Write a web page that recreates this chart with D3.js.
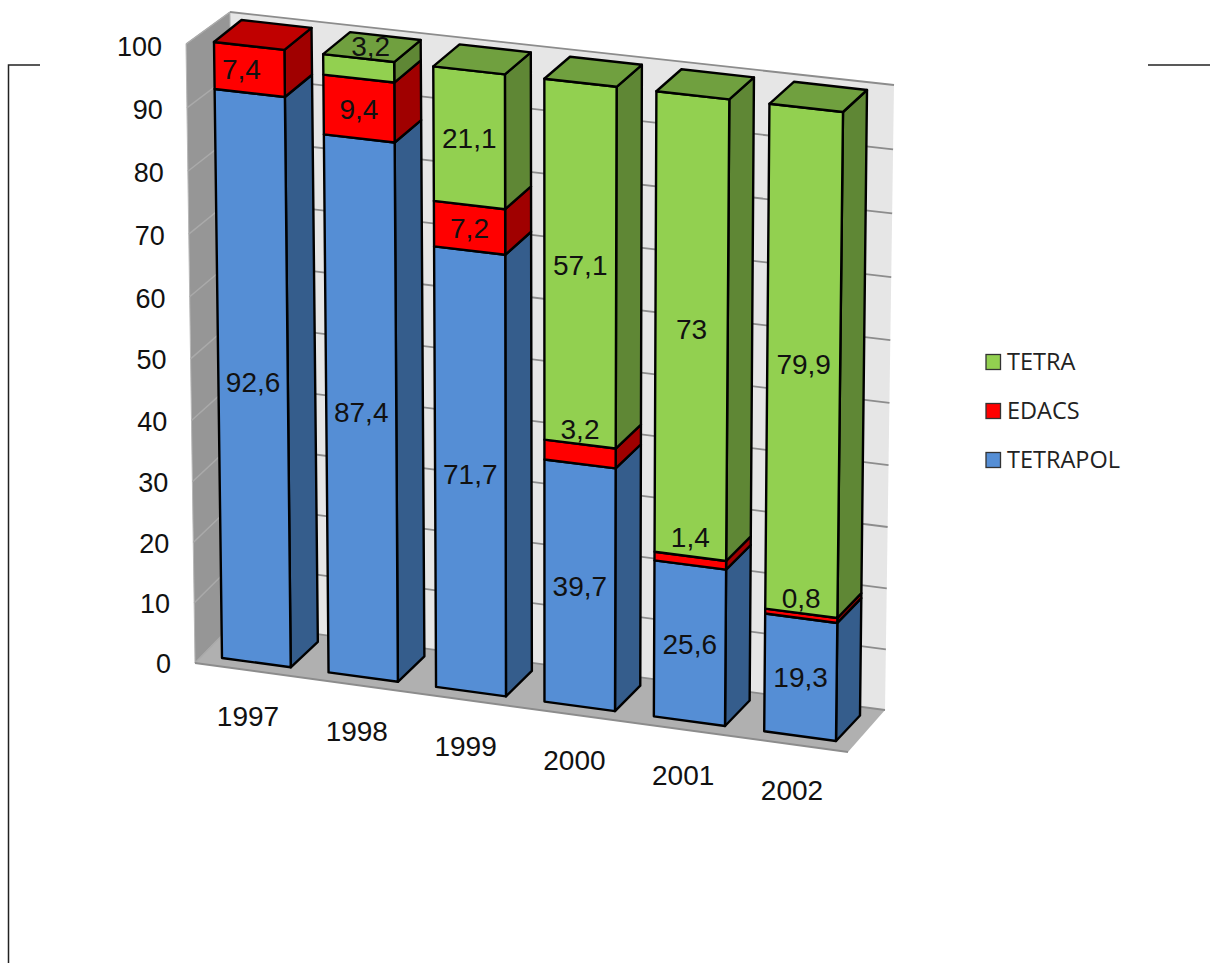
<!DOCTYPE html>
<html>
<head>
<meta charset="utf-8">
<script src="https://cdn.jsdelivr.net/npm/d3@7"></script>
<style>
html, body { margin: 0; padding: 0; background: #fff; }
svg { display: block; }
</style>
</head>
<body>
<svg id="chart" width="1210" height="963"></svg>
<script>
const years = ["1997", "1998", "1999", "2000", "2001", "2002"];
const tetrapol = [92.6, 87.4, 71.7, 39.7, 25.6, 19.3];
const edacs = [7.4, 9.4, 7.2, 3.2, 1.4, 0.8];
const tetra = [0, 3.2, 21.1, 57.1, 73, 79.9];
const valueTicks = [0, 10, 20, 30, 40, 50, 60, 70, 80, 90, 100];
const seriesNames = ["TETRAPOL", "EDACS", "TETRA"];
const legendNames = ["TETRA", "EDACS", "TETRAPOL"];

const colors = {
    TETRAPOL: { front: "#558ed5", side: "#355d8c", top: "#4472a8" },
    EDACS: { front: "#ff0000", side: "#a00000", top: "#c00000" },
    TETRA: { front: "#92d050", side: "#5f8735", top: "#70a03f" }
};

// labels that were dragged off their default spot in the original
const labelNudge = {
    "1997 EDACS": [-8, -1],
    "1998 TETRA": [12, 0],
    "2000 EDACS": [0, -3],
    "2001 EDACS": [0, -7],
    "2002 EDACS": [0, -3]
};

const FONT = "'Liberation Sans', Arial, sans-serif";
const svg = d3.select("#chart");

const table = years.map((y, i) => ({
    year: y,
    TETRAPOL: tetrapol[i],
    EDACS: edacs[i],
    TETRA: tetra[i]
}));
const stacked = d3.stack().keys(seriesNames)(table);

// band position across the chart, 0..1
const band = d3.scaleBand().domain(years).range([0, 1]).paddingInner(0.354);
const value = d3.scaleLinear().domain([0, 100]).range([0, 1]);

// the picture is in perspective, so neither axis is quite linear
function persp(t, k) { return t / (t + k * (1 - t)); }

const bottomX = d3.scaleLinear().domain([0, 1]).range([222, 836]);
const bottomY = d3.scaleLinear().domain([0, 1]).range([658, 741]);
const topX = d3.scaleLinear().domain([0, 1]).range([214, 843]);
const topY = d3.scaleLinear().domain([0, 1]).range([42, 112]);
const depthX = d3.scaleLinear().domain([0, 1]).range([27.5, 24]);
const depthY = d3.scaleLinear().domain([0, 1]).range([-25.5, -22]);

function project(u, v, d) {
    const pu = persp(u, 1.025);
    const pt = persp(value(v), 1.035);
    const x = d3.interpolateNumber(bottomX(pu), topX(pu))(pt) + depthX(pu) * d;
    const y = d3.interpolateNumber(bottomY(pu), topY(pu))(pt) + depthY(pt) * d;
    return [x, y];
}

const poly = d3.line().curve(d3.curveLinearClosed);

// walls and floor
const wallBack = [[230, 12], [894, 85], [885, 710], [234, 623]];
const wallSide = [[186, 44], [230, 12], [234, 623], [195, 663]];
const floor = [[195, 663], [234, 623], [885, 710], [848, 752]];

svg.append("path").attr("d", poly(wallBack)).attr("fill", "#e6e6e6");
svg.append("path").attr("d", poly(wallSide)).attr("fill", "#969696")
    .attr("stroke", "#b8b8b8").attr("stroke-width", 1);
svg.append("path").attr("d", poly(floor)).attr("fill", "#b0b0b0");

function lerpPoint(a, b, t) {
    return [a[0] + (b[0] - a[0]) * t, a[1] + (b[1] - a[1]) * t];
}

valueTicks.forEach(function (v) {
    const t = persp(value(v), 1.035);
    const front = lerpPoint(wallSide[3], wallSide[0], t);
    const backL = lerpPoint(wallSide[2], wallSide[1], t);
    const backR = lerpPoint(wallBack[2], wallBack[1], t);
    svg.append("line")
        .attr("x1", front[0]).attr("y1", front[1])
        .attr("x2", backL[0]).attr("y2", backL[1])
        .attr("stroke", "#aaaaaa").attr("stroke-width", 1.5);
    svg.append("line")
        .attr("x1", backL[0]).attr("y1", backL[1])
        .attr("x2", backR[0]).attr("y2", backR[1])
        .attr("stroke", "#8c8c8c").attr("stroke-width", 1.8);
});

// floor front edge
svg.append("line")
    .attr("x1", floor[0][0]).attr("y1", floor[0][1])
    .attr("x2", floor[3][0]).attr("y2", floor[3][1])
    .attr("stroke", "#8c8c8c").attr("stroke-width", 2);

// bars
const bars = svg.append("g")
    .attr("stroke", "#000")
    .attr("stroke-width", 2.4)
    .attr("stroke-linejoin", "round");

stacked.forEach(function (layer) {
    const c = colors[layer.key];
    layer.forEach(function (seg) {
        if (seg[1] - seg[0] <= 0) return;
        const year = seg.data.year;
        const u0 = band(year);
        const u1 = u0 + band.bandwidth();

        bars.append("path")
            .attr("d", poly([
                project(u1, seg[0], 0), project(u1, seg[0], 1),
                project(u1, seg[1], 1), project(u1, seg[1], 0)
            ]))
            .attr("fill", c.side);

        bars.append("path")
            .attr("d", poly([
                project(u0, seg[0], 0), project(u1, seg[0], 0),
                project(u1, seg[1], 0), project(u0, seg[1], 0)
            ]))
            .attr("fill", c.front);

        // top face only on the last segment of the bar
        if (seg[1] >= 99.9 && seg[0] < 99.9) {
            bars.append("path")
                .attr("d", poly([
                    project(u0, seg[1], 0), project(u1, seg[1], 0),
                    project(u1, seg[1], 1), project(u0, seg[1], 1)
                ]))
                .attr("fill", c.top);
        }
    });
});

// value labels, thin segments carry theirs above the segment
stacked.forEach(function (layer) {
    layer.forEach(function (seg) {
        const size = seg[1] - seg[0];
        if (size <= 0) return;
        const um = band(seg.data.year) + band.bandwidth() / 2;
        const p = size < 4
            ? project(um, seg[1], 0)
            : project(um, (seg[0] + seg[1]) / 2, 0);
        const nudge = labelNudge[seg.data.year + " " + layer.key] || [0, 0];
        svg.append("text")
            .attr("x", p[0] + nudge[0])
            .attr("y", (size < 4 ? p[1] - 12 : p[1]) + nudge[1])
            .attr("dy", "0.36em")
            .attr("text-anchor", "middle")
            .attr("font-family", FONT)
            .attr("font-size", 28)
            .attr("fill", "#111")
            .text(String(size.toFixed(1)).replace(".0", "").replace(".", ","));
    });
});

// value axis, the labels lean with the front edge of the side wall
const yAxisScale = d3.scaleLinear().domain([0, 100]).range([664, 47]);
const tickX = d3.scaleLinear().domain([0, 100]).range([171, 162]);
const yAxis = d3.axisLeft(yAxisScale).tickValues(valueTicks).tickSize(0).tickPadding(0);
const yG = svg.append("g").call(yAxis);
yG.select(".domain").remove();
yG.selectAll(".tick")
    .attr("transform", d => "translate(" + tickX(d) + "," + yAxisScale(persp(value(d), 1.035) * 100) + ")");
yG.selectAll("text")
    .attr("font-family", FONT)
    .attr("font-size", 27)
    .attr("fill", "#111");

// year labels follow the slope of the floor
const yearX = d3.scalePoint().domain(years).range([248, 792]);
const yearY = d3.scalePoint().domain(years).range([716, 790]);
svg.selectAll("text.year")
    .data(years)
    .join("text")
    .attr("class", "year")
    .attr("x", d => yearX(d))
    .attr("y", d => yearY(d))
    .attr("dy", "0.36em")
    .attr("text-anchor", "middle")
    .attr("font-family", FONT)
    .attr("font-size", 28)
    .attr("fill", "#111")
    .text(d => d);

// legend
const legendY = d3.scalePoint().domain(legendNames).range([362, 460]);
const legend = svg.selectAll("g.legend")
    .data(legendNames)
    .join("g")
    .attr("class", "legend")
    .attr("transform", d => "translate(0," + legendY(d) + ")");
legend.append("rect")
    .attr("x", 986).attr("y", -7.5)
    .attr("width", 14.5).attr("height", 15)
    .attr("fill", d => colors[d].front)
    .attr("stroke", "#333").attr("stroke-width", 1.3);
legend.append("text")
    .attr("x", 1007)
    .attr("dy", "0.36em")
    .attr("font-family", "'Open Sans', 'Noto Sans', sans-serif")
    .attr("font-size", 23.5)
    .attr("fill", "#222")
    .text(d => d);

// rest of the page border around the chart
const border = svg.append("g").attr("stroke", "#222").attr("stroke-width", 1.5).attr("fill", "none");
border.append("path").attr("d", "M40,65H8.5V963");
border.append("path").attr("d", "M1148,65H1210");
</script>
</body>
</html>
